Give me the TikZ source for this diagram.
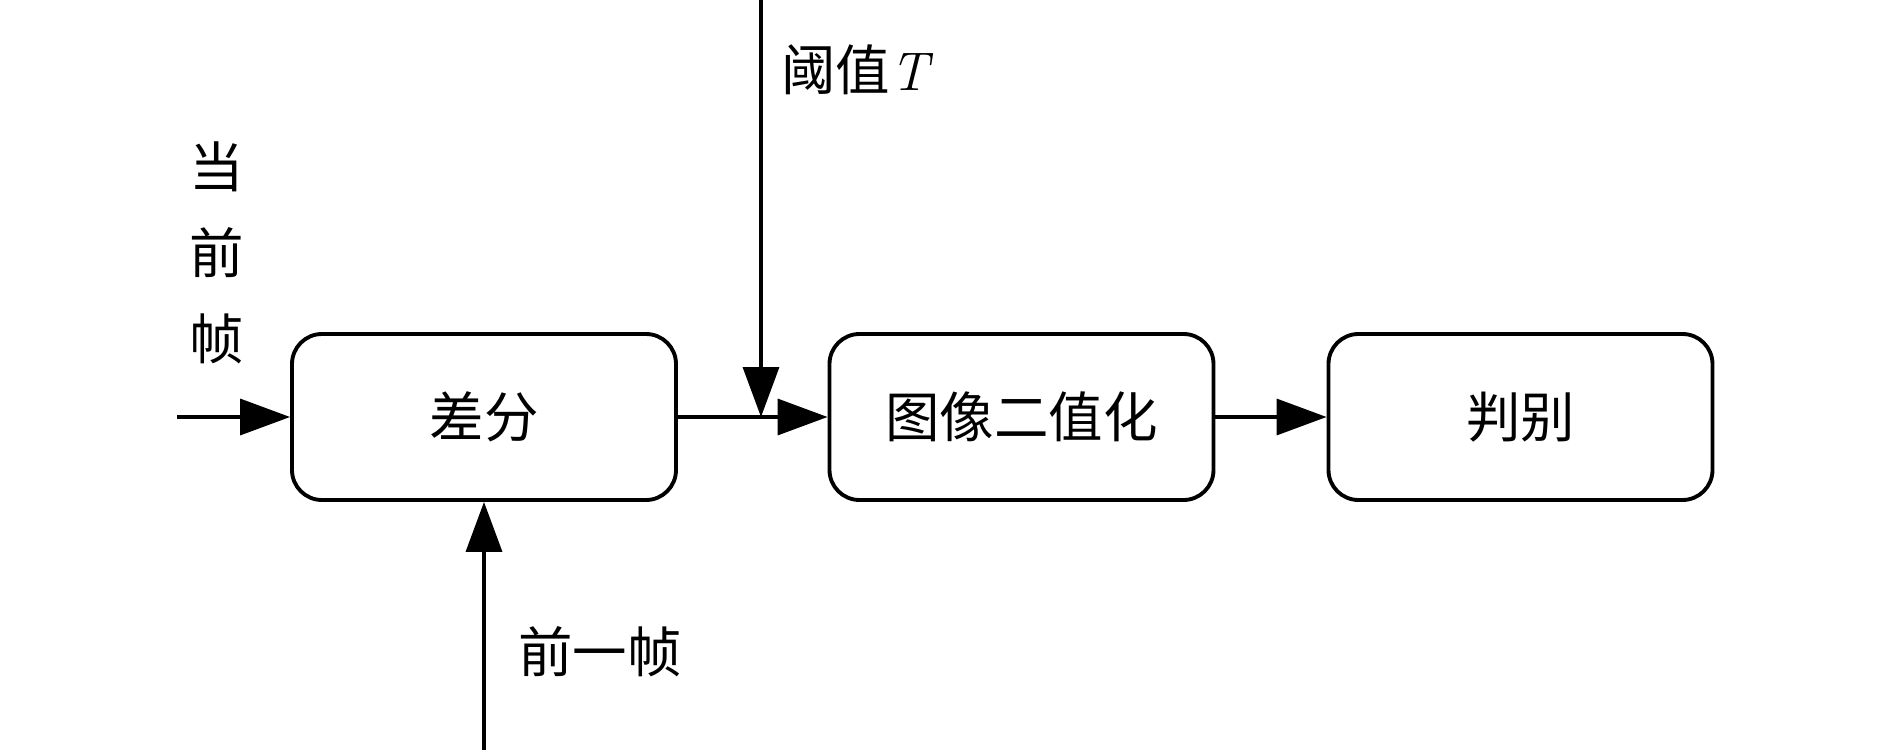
\documentclass[tikz,border=0pt]{standalone}
\usepackage{fontspec}
\newfontfamily\cjk{Noto Sans CJK SC}
\usetikzlibrary{arrows.meta}

\tikzset{
  stage/.style={draw, black, line width=2.2pt, rounded corners=0.6cm,
    minimum width=7.68cm, minimum height=3.32cm, inner sep=0pt,
    font=\cjk\fontsize{31}{36}\selectfont},
  lbl/.style={inner sep=0pt, font=\cjk\fontsize{31}{36}\selectfont},
  flow/.style={black, line width=2pt, -{Triangle[length=1.0cm, width=0.72cm]}}
}

\begin{document}
\begin{tikzpicture}
		\useasboundingbox (0, 0) rectangle (37.8, -15.04);
		% blocks
		\node[stage] (diff) at (9.68, -8.34) {差分};
		\node[stage] (bin) at (20.43, -8.34) {图像二值化};
		\node[stage] (judge) at (30.41, -8.34) {判别};
		% free ends
		\coordinate (cur) at (3.54, -8.34);
		\coordinate (prev) at (9.68, -15.0);
		\coordinate (thtop) at (15.22, 0);
		\coordinate (thjoin) at (15.22, -8.34);
		% labels
		\node[lbl, align=center, font=\cjk\fontsize{31}{49}\selectfont] (curlbl) at (4.34, -5.06) {当\\前\\帧};
		\node[lbl, anchor=west] (thlbl) at (15.62, -1.4) {阈值{\rmfamily\itshape T}};
		\node[lbl, anchor=west] (prevlbl) at (10.36, -13.04) {前一帧};
		% connectors
		\draw[flow] (cur) -- (diff.west);
		\draw[flow] (prev) -- (diff.south);
		\draw[flow] (diff.east) -- (bin.west);
		\draw[flow] (thtop) -- (thjoin);
		\draw[flow] (bin.east) -- (judge.west);
	\end{tikzpicture}
\end{document}
